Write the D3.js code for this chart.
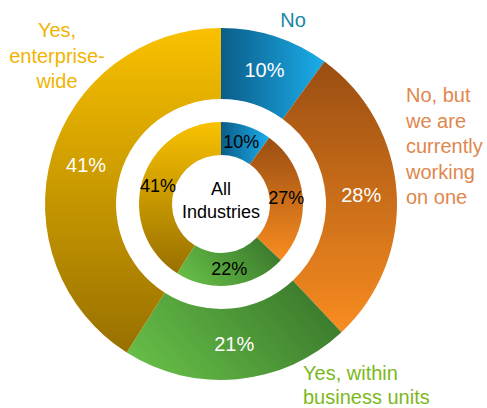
<!DOCTYPE html>
<html>
<head>
<meta charset="utf-8">
<script src="https://cdnjs.cloudflare.com/ajax/libs/d3/7.8.5/d3.min.js"></script>
<style>
  body { margin: 0; background: #fff; }
  svg { display: block; font-family: "Liberation Sans", Arial, sans-serif; }
</style>
</head>
<body>
<div id="chart"></div>
<script>
// data
const categories = ['No', 'No, but we are currently working on one', 'Yes, within business units', 'Yes, enterprise-wide']
const outerValues = [10, 28, 21, 41]
const innerValues = [10, 27, 22, 41]
const centerLabel = ['All', 'Industries']

const w = 487, h = 408
const cx = 221, cy = 204
const rOuter = 176, rOuterIn = 105
const rInner = 82, rInnerIn = 49

// gradient per category: [x1, y1, x2, y2, from, to]
const grads = [
  [0, 0, 1, 0, '#0b5d88', '#1badea'],
  [0, 0, 0, 1, '#9a4e12', '#f88c20'],
  [0, 0.7, 1, 0.3, '#66bd47', '#3a782c'],
  [0, 0, 0, 1, '#f9c100', '#987000']
]
const labelColors = ['#1786a8', '#e0874e', '#7cb81c', '#f0b400']

const svg = d3.select('#chart').append('svg')
  .attr('width', w)
  .attr('height', h)

const defs = svg.append('defs')
grads.forEach((g, i) => {
  const lg = defs.append('linearGradient')
    .attr('id', 'grad' + i)
    .attr('x1', g[0]).attr('y1', g[1])
    .attr('x2', g[2]).attr('y2', g[3])
  lg.append('stop').attr('offset', '0%').attr('stop-color', g[4])
  lg.append('stop').attr('offset', '100%').attr('stop-color', g[5])
})

const pie = d3.pie().sort(null).value(d => d)

function ring(values, r0, r1, fontSize, textColor) {
  const arc = d3.arc().innerRadius(r0).outerRadius(r1)
  const g = svg.append('g').attr('transform', `translate(${cx},${cy})`)
  const slices = g.selectAll('.arc').data(pie(values)).enter()
  slices.append('path')
    .attr('d', arc)
    .attr('fill', (d, i) => `url(#grad${i})`)
  slices.append('text')
    .attr('transform', d => 'translate(' + arc.centroid(d) + ')')
    .attr('text-anchor', 'middle')
    .attr('dy', '0.35em')
    .attr('font-size', fontSize + 'px')
    .attr('fill', textColor)
    .text(d => d.data + '%')
}

ring(outerValues, rOuterIn, rOuter, 20, '#fff')
ring(innerValues, rInnerIn, rInner, 18, '#000')

// center label
svg.append('text')
  .attr('x', cx).attr('y', cy)
  .attr('text-anchor', 'middle')
  .attr('font-size', '18px')
  .attr('fill', '#000')
  .selectAll('tspan').data(centerLabel).enter()
  .append('tspan')
  .attr('x', cx)
  .attr('y', (d, i) => cy - 9 + i * 23)
  .text(d => d)

// category labels (wrapped as in the original)
const catLines = [
  ['No'],
  ['No, but', 'we are', 'currently', 'working', 'on one'],
  ['Yes, within', 'business units'],
  ['Yes,', 'enterprise-', 'wide']
]
const catPos = [
  { x: 293, y: 27, anchor: 'middle', lh: 25 },
  { x: 406, y: 102, anchor: 'start', lh: 25.5 },
  { x: 303, y: 380, anchor: 'start', lh: 24 },
  { x: 57, y: 37, anchor: 'middle', lh: 25.5 }
]
categories.forEach((c, i) => {
  const p = catPos[i]
  svg.append('text')
    .attr('text-anchor', p.anchor)
    .attr('font-size', '20px')
    .attr('fill', labelColors[i])
    .selectAll('tspan').data(catLines[i]).enter()
    .append('tspan')
    .attr('x', p.x)
    .attr('y', (d, j) => p.y + j * p.lh)
    .text(d => d)
})
</script>
</body>
</html>
